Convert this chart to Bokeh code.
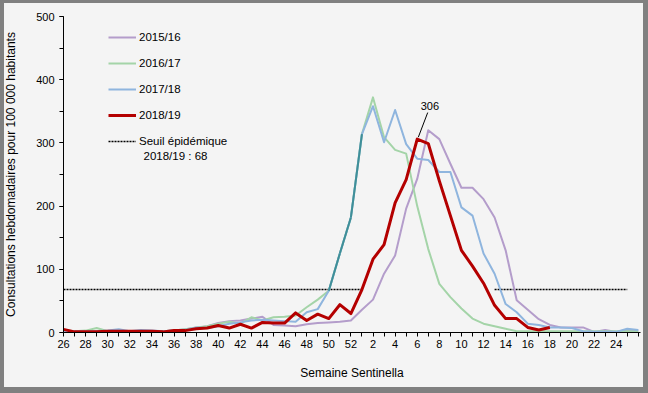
from bokeh.plotting import figure
from bokeh.models import (Range1d, FixedTicker, SingleIntervalTicker, Legend,
                          LegendItem, Label)
from bokeh.embed import file_html
from bokeh.resources import INLINE

# ---- data -------------------------------------------------------------
weeks = list(range(26, 53)) + list(range(1, 27))   # Semaine Sentinella (x categories)

s_2015_16 = [2, 1, 1, 2, 1, 1, 2, 1, 1, 2, 3, 5, 7, 10, 15, 18, 19, 22, 25, 12,
             11, 10, 13, 15, 16, 17, 19, 36, 52, 93, 122, 196, 243, 320, 306, 267,
             229, 229, 211, 182, 130, 51, 36, 21, 12, 8, 8, 8, 1, 4, 1, 4, 3]
s_2016_17 = [4, 2, 3, 7, 2, 2, 2, 2, 2, 2, 3, 5, 8, 10, 14, 17, 14, 24, 19, 24,
             25, 27, 40, 52, 66, 125, 182, 314, 372, 309, 289, 283, 200, 132, 77, 56,
             38, 22, 14, 10, 6, 2, 2, 2, 2, 2, 2, 2, 2, 2, 2, 2, 2]
s_2017_18 = [2, 2, 2, 2, 3, 5, 2, 4, 3, 2, 3, 4, 8, 7, 10, 14, 16, 19, 20, 19,
             18, 17, 32, 37, 66, 125, 182, 314, 358, 301, 352, 298, 275, 273, 254, 254,
             198, 185, 125, 93, 45, 32, 14, 12, 8, 8, 7, 2, 1, 1, 1, 6, 4]
s_2018_19 = [5, 1, 1, 1, 2, 2, 2, 2, 2, 1, 3, 3, 6, 7, 11, 7, 13, 7, 16, 15,
             15, 31, 19, 29, 22, 44, 30, 68, 116, 139, 205, 242, 306, 299, 240, 185,
             130, 105, 78, 43, 22, 22, 8, 4, 8]

threshold_value = 68
threshold_periods = [(26, 1), (13, 25)]   # start week, end week (outside epidemic)

series_names = ["2015/16", "2016/17", "2017/18", "2018/19"]
series_colors = ["#b49dcb", "#a4d4a8", "#8fb5de", "#b40000"]
series_widths = [2, 2, 2, 3]
overlap_color = "#3f8f98"

FONT = "Liberation Sans"

# ---- figure -----------------------------------------------------------
p = figure(width=648, height=393, output_backend="svg", toolbar_location=None,
           x_range=Range1d(0, 52.2), y_range=Range1d(0, 500),
           min_border_left=63, min_border_right=8, min_border_top=16,
           min_border_bottom=61)
p.background_fill_color = "#f4f4f4"
p.border_fill_color = "#f4f4f4"
p.border_fill_alpha = 0
p.styles = {"background-color": "#f4f4f4",
            "box-shadow": "inset 4px 3px 0 0 #808080, inset -5px -6px 0 0 #808080"}
p.outline_line_color = None
p.grid.visible = False

# axes
xa = p.xaxis[0]
xa.ticker = FixedTicker(ticks=list(range(len(weeks))))
xa.major_label_overrides = {i: (str(w) if (i % 2 == 0 and i < 52) else "")
                            for i, w in enumerate(weeks)}
xa.axis_label = "Semaine Sentinella"
ya = p.yaxis[0]
ya.ticker = SingleIntervalTicker(interval=100, num_minor_ticks=2)
ya.axis_label = "Consultations hebdomadaires pour 100 000 habitants"
for ax in (xa, ya):
    ax.axis_line_color = "black"
    ax.axis_line_width = 1
    ax.major_tick_line_color = "black"
    ax.minor_tick_line_color = "black"
    ax.major_tick_in = 0
    ax.major_tick_out = 4
    ax.minor_tick_in = 0
    ax.minor_tick_out = 4
    ax.major_label_text_font = FONT
    ax.major_label_text_font_size = "11px"
    ax.major_label_text_color = "black"
    ax.axis_label_text_font = FONT
    ax.axis_label_text_font_size = "12px"
    ax.axis_label_text_font_style = "normal"
    ax.axis_label_text_color = "black"
xa.minor_tick_out = 0
xa.major_label_standoff = 3
xa.axis_label_standoff = 15
ya.major_label_standoff = 5
ya.axis_label_standoff = 15

# threshold
thr_renderers = []
for (a, b) in threshold_periods:
    i0, i1 = weeks.index(a), len(weeks) - 1 - weeks[::-1].index(b)
    r = p.line([i0, i1], [threshold_value, threshold_value], line_color="black",
               line_width=1.6, line_dash="2 1")
    thr_renderers.append(r)

# seasons
renderers = []
for vals, c, w in zip([s_2015_16, s_2016_17, s_2017_18, s_2018_19],
                      series_colors, series_widths):
    r = p.line(list(range(len(vals))), vals, line_color=c, line_width=w,
               line_join="round")
    renderers.append(r)
    if vals is s_2017_18:
        # where 2016/17 and 2017/18 coincide the two lines blend
        for i in range(len(vals) - 1):
            if s_2016_17[i] == vals[i] and s_2016_17[i + 1] == vals[i + 1] and vals[i] > 40:
                p.line([i, i + 1], [vals[i], vals[i + 1]], line_color=overlap_color,
                       line_width=2)
# keep red on top
p.renderers.remove(renderers[3])
p.renderers.append(renderers[3])

# peak annotation
peak_i = max(range(len(s_2018_19)), key=lambda i: s_2018_19[i])
peak_v = s_2018_19[peak_i]
p.segment(x0=[peak_i + 0.1], y0=[peak_v + 3], x1=[peak_i + 0.95], y1=[peak_v + 42],
          line_color="black", line_width=1)
p.add_layout(Label(x=peak_i + 1.15, y=peak_v + 53, text=str(peak_v),
                   text_align="center", text_baseline="middle",
                   text_font=FONT, text_font_size="11px", text_color="black"))

# legend
items = [LegendItem(label=n, renderers=[r]) for n, r in zip(series_names, renderers)]
items.append(LegendItem(label="Seuil épidémique", renderers=[thr_renderers[0]]))
legend = Legend(items=items, location=(45, 182.7), orientation="vertical",
                padding=0, margin=0, spacing=10, glyph_width=28, glyph_height=16,
                label_height=16, label_standoff=3, label_text_font=FONT,
                label_text_font_size="11.5px", label_text_color="black",
                background_fill_alpha=0, border_line_alpha=0)
p.add_layout(legend)
p.add_layout(Label(x=80, y=177, x_units="screen", y_units="screen",
                   text="2018/19 : " + str(threshold_value), text_baseline="middle",
                   text_font=FONT, text_font_size="11.5px", text_color="black"))

open("out.html", "w").write(file_html(p, INLINE))
